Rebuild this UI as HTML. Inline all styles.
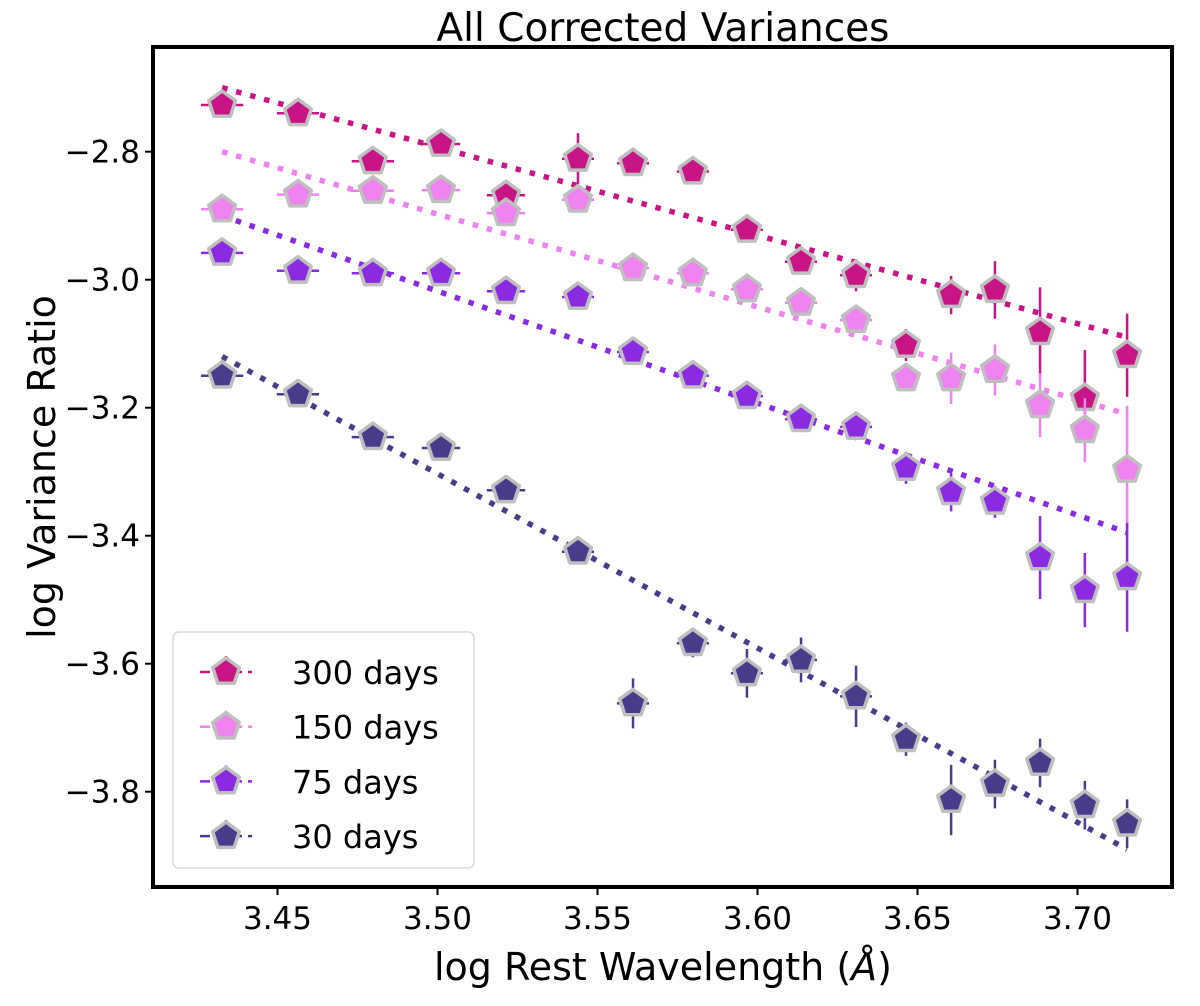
<!DOCTYPE html>
<html><head><meta charset="utf-8"><style>
body{margin:0;background:#fff}
svg text{font-family:"DejaVu Sans","Liberation Sans",sans-serif;fill:#000}
</style></head><body>
<svg id="chart" width="1200" height="1001" xmlns="http://www.w3.org/2000/svg">
<text x="663" y="41" font-size="39" text-anchor="middle">All Corrected Variances</text>
<g id="plot"></g>
<rect x="153" y="47" width="1019" height="840" fill="none" stroke="#000" stroke-width="4"/>
<g id="axes"></g>
<text x="663" y="980" font-size="38" text-anchor="middle">log Rest Wavelength (<tspan font-style="italic">Å</tspan>)</text>
<text transform="translate(55,467) rotate(-90)" font-size="38" text-anchor="middle">log Variance Ratio</text>
<g id="legend"></g>
</svg>
<script>
const xs = [3.4327,3.4564,3.4798,3.5011,3.5214,3.5439,3.5611,3.5798,3.5967,3.6136,3.6308,3.6464,3.6605,3.6742,3.6883,3.7023,3.7155];
const xErr = [0.0066,0.0066,0.0066,0.006,0.006,0.005,0.005,0.005,0.005,0.005,0.005,0.004,0.004,0.004,0.004,0.004,0.004];
const seriesNames = ["300 days","150 days","75 days","30 days"];
const seriesColors = ["#c71585","#ee82ee","#8a2be2","#483d8b"];
const y300 = [-2.727,-2.740,-2.815,-2.788,-2.868,-2.811,-2.818,-2.831,-2.922,-2.972,-2.993,-3.102,-3.024,-3.016,-3.082,-3.185,-3.118];
const e300 = [0.01,0.01,0.01,0.015,0.02,0.04,0.01,0.01,0.01,0.01,0.025,0.025,0.03,0.045,0.07,0.075,0.065];
const y150 = [-2.890,-2.867,-2.861,-2.860,-2.896,-2.875,-2.982,-2.990,-3.015,-3.036,-3.063,-3.154,-3.154,-3.141,-3.196,-3.235,-3.297];
const e150 = [0.01,0.01,0.01,0.01,0.015,0.015,0.01,0.01,0.01,0.01,0.015,0.02,0.04,0.04,0.05,0.05,0.1];
const y75 = [-2.958,-2.986,-2.990,-2.990,-3.018,-3.027,-3.113,-3.150,-3.182,-3.218,-3.230,-3.294,-3.332,-3.347,-3.434,-3.485,-3.465];
const e75 = [0.015,0.01,0.01,0.01,0.01,0.015,0.015,0.01,0.015,0.015,0.015,0.025,0.03,0.025,0.065,0.058,0.085];
const y30 = [-3.150,-3.179,-3.246,-3.263,-3.329,-3.425,-3.662,-3.568,-3.615,-3.594,-3.651,-3.718,-3.813,-3.788,-3.755,-3.821,-3.850];
const e30 = [0.01,0.01,0.01,0.01,0.01,0.02,0.039,0.022,0.038,0.035,0.048,0.026,0.055,0.038,0.038,0.038,0.038];
const fitStart = [-2.70,-2.80,-2.90,-3.12];
const fitEnd = [-3.09,-3.21,-3.395,-3.89];
const xTicks = [3.45,3.50,3.55,3.60,3.65,3.70];
const yTicks = [-2.8,-3.0,-3.2,-3.4,-3.6,-3.8];

const NS="http://www.w3.org/2000/svg";
const X = v => 277.5 + (v-3.45)*3200;
const Y = v => 151.7 + (-2.8-v)*640;
function mk(tag,attrs,parent){const e=document.createElementNS(NS,tag);for(const k in attrs)e.setAttribute(k,attrs[k]);parent.appendChild(e);return e;}
function pent(cx,cy,r){let p=[];for(let i=0;i<5;i++){const a=-Math.PI/2+i*2*Math.PI/5;p.push((cx+r*Math.cos(a)).toFixed(1)+","+(cy+r*Math.sin(a)).toFixed(1));}return p.join(" ");}

const axes=document.getElementById('axes');
xTicks.forEach(t=>{
  const l=mk('line',{x1:X(t),x2:X(t),y1:887,y2:895,stroke:'#000','stroke-width':2},axes);
  
  
  const tx=mk('text',{x:X(t),y:929,'font-size':31,'text-anchor':'middle'},axes);
  tx.textContent=t.toFixed(2);
  
  
});
yTicks.forEach(t=>{
  const l=mk('line',{x1:145,x2:153,y1:Y(t),y2:Y(t),stroke:'#000','stroke-width':2},axes);
  
  
  const tx=mk('text',{x:140,y:Y(t)+11,'font-size':31,'text-anchor':'end'},axes);
  tx.textContent='\u2212'+Math.abs(t).toFixed(1);
  
  
});

const plot=document.getElementById('plot');
const allY=[y300,y150,y75,y30], allE=[e300,e150,e75,e30];
for(let s=0;s<4;s++){
  const c=seriesColors[s];
  const fl=mk('line',{x1:X(xs[0]),y1:Y(fitStart[s]),x2:X(xs[xs.length-1]),y2:Y(fitEnd[s]),stroke:c,'stroke-width':5.5,'stroke-dasharray':'5.5 9'},plot);
  
  
}
for(let s=0;s<4;s++){
  const c=seriesColors[s];
  const g=mk('g',{},plot);
  
  
  xs.forEach((xv,i)=>{
    const cx=X(xv), cy=Y(allY[s][i]);
    const eb=mk('path',{d:`M${X(xv-xErr[i])},${cy}H${X(xv+xErr[i])}M${cx},${Y(allY[s][i]+allE[s][i])}V${Y(allY[s][i]-allE[s][i])}`,stroke:c,'stroke-width':2.5,fill:'none'},g);
    
    
    const m=mk('polygon',{points:pent(cx,cy,14),fill:c,stroke:'#bfbfbf','stroke-width':3.5,'stroke-linejoin':'round'},g);
    
    
  });
}

const lg=document.getElementById('legend');
const box=mk('rect',{x:173,y:632,width:301,height:236,rx:6,fill:'#fff','fill-opacity':0.8,stroke:'#d8d8d8','stroke-width':1.5},lg);


seriesNames.forEach((n,s)=>{
  const cy=672+s*54.7, c=seriesColors[s];
  const g=mk('g',{},lg);
  
  
  mk('path',{d:`M200,${cy}H252M226,${cy-16}V${cy+16}`,stroke:c,'stroke-width':2.5,'stroke-dasharray':'10 6',fill:'none'},g);
  mk('polygon',{points:pent(226,cy,14),fill:c,stroke:'#bfbfbf','stroke-width':3.5,'stroke-linejoin':'round'},g);
  const t=mk('text',{x:292,y:cy+12,'font-size':32},g);
  t.textContent=n;
});
</script>
</body></html>
